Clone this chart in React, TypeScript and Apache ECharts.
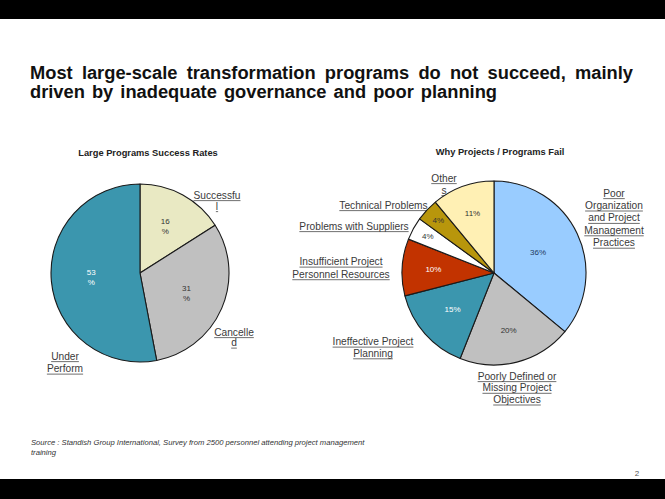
import React, { useEffect, useRef } from "react";
import * as echarts from "echarts";

// ---------- data ----------
const successCategories = ["Successful", "Cancelled", "Under Perform"];
const successValues = [16, 31, 53];
const successLabelLines = [["Successfu", "l"], ["Cancelle", "d"], ["Under", "Perform"]];

const failCategories = [
  "Poor Organization and Project Management Practices",
  "Poorly Defined or Missing Project Objectives",
  "Ineffective Project Planning",
  "Insufficient Project Personnel Resources",
  "Problems with Suppliers",
  "Technical Problems",
  "Others",
];
const failValues = [36, 20, 15, 10, 4, 4, 11];
const failLabelLines = [
  ["Poor", "Organization", "and Project", "Management", "Practices"],
  ["Poorly Defined or", "Missing Project", "Objectives"],
  ["Ineffective Project", "Planning"],
  ["Insufficient Project", "Personnel Resources"],
  ["Problems with Suppliers"],
  ["Technical Problems"],
  ["Other", "s"],
];

const titleLines = [
  "Most large-scale transformation programs do not succeed, mainly",
  "driven by inadequate governance and poor planning",
];
const leftTitle = "Large Programs Success Rates";
const rightTitle = "Why Projects / Programs Fail";
const sourceLines = [
  "Source : Standish Group International, Survey from 2500 personnel attending project management",
  "training",
];
const pageNumber = "2";

// ---------- styles / layout ----------
const FONT = '"Liberation Sans", Arial, sans-serif';
const successColors = ["#e9e9c3", "#c0c0c0", "#3b96ae"];
const successLabelColors = ["#333", "#333", "#ffffff"];
const failColors = ["#99ccff", "#c0c0c0", "#3b96ae", "#c23300", "#ffffff", "#b8960c", "#fff0b4"];
const failLabelColors = ["#1f3a60", "#333", "#ffffff", "#ffffff", "#333", "#333", "#333"];

const leftPie = { cx: 140, cy: 273, r: 89 };
const rightPie = { cx: 494, cy: 273, r: 92 };
const leftInnerFactor = [0.59, 0.57, 0.55];
const rightInnerFactor = [0.53, 0.64, 0.6, 0.66, 0.82, 0.83, 0.69];
// [center x, first line y, line step]
const leftOuterPos = [
  [217, 195, 11],
  [234, 332, 10.5],
  [65, 356, 12.5],
];
const rightOuterPos = [
  [614, 193, 12.4],
  [517, 376, 11.7],
  [373, 341.5, 11.7],
  [341, 261.5, 12.6],
  [354, 226, 0],
  [383.5, 205, 0],
  [444, 178, 12],
];
// title line: [x start, x end, y]
const titleLayout = [
  [30, 633, 72],
  [30, 497, 91.5],
];
const TITLE_SIZE = 18.3;

let measureCtx: CanvasRenderingContext2D | null = null;
function textWidth(t: string, size: number, weight = "normal") {
  if (!measureCtx) measureCtx = document.createElement("canvas").getContext("2d");
  if (!measureCtx) return t.length * size * 0.5;
  measureCtx.font = `${weight} ${size}px ${FONT}`;
  return measureCtx.measureText(t).width;
}

function justifiedLine(t: string, x0: number, x1: number, y: number, size: number) {
  const words = t.split(" ");
  const widths = words.map((w) => textWidth(w, size, "bold"));
  const sum = widths.reduce((a, b) => a + b, 0);
  const gap = words.length > 1 ? (x1 - x0 - sum) / (words.length - 1) : 0;
  const els: any[] = [];
  let x = x0;
  words.forEach((w, i) => {
    els.push({
      type: "text",
      style: { text: w, x, y, align: "left", verticalAlign: "middle", fontSize: size, fontWeight: "bold", fontFamily: FONT, fill: "#111" },
      silent: true,
    });
    x += widths[i] + gap;
  });
  return els;
}

function outerLabels(lines: string[][], pos: number[][], size: number) {
  const els: any[] = [];
  lines.forEach((ls, i) => {
    const [cx, y0, step] = pos[i];
    ls.forEach((t, j) => {
      const y = y0 + j * step;
      els.push({
        type: "text",
        style: { text: t, x: cx, y, align: "center", verticalAlign: "middle", fontSize: size, fontFamily: FONT, fill: "#3a3a3a" },
        silent: true,
      });
      const w = textWidth(t, size);
      els.push({
        type: "line",
        shape: { x1: cx - w / 2, y1: y + size * 0.55, x2: cx + w / 2, y2: y + size * 0.55 },
        style: { stroke: "#4a4a4a", lineWidth: 0.8 },
        silent: true,
      });
    });
  });
  return els;
}

function innerLayout(values: number[], pie: { cx: number; cy: number; r: number }, factors: number[]) {
  const total = values.reduce((a, b) => a + b, 0);
  return (params: any) => {
    const i = params.dataIndex;
    let cum = 0;
    for (let k = 0; k < i; k++) cum += values[k];
    const theta = ((cum + values[i] / 2) / total) * Math.PI * 2;
    const rr = pie.r * factors[i];
    return {
      x: pie.cx + rr * Math.sin(theta),
      y: pie.cy - rr * Math.cos(theta),
      align: "center",
      verticalAlign: "middle",
    };
  };
}

export default function App() {
  const ref = useRef<HTMLDivElement>(null);
  useEffect(() => {
    if (!ref.current) return;
    const chart = echarts.init(ref.current, null, { renderer: "svg" });

    const graphics: any[] = [
      { type: "rect", shape: { x: 0, y: 0, width: 665, height: 19 }, style: { fill: "#000" }, silent: true },
      { type: "rect", shape: { x: 0, y: 479, width: 665, height: 20 }, style: { fill: "#000" }, silent: true },
      ...titleLines.flatMap((t, i) => justifiedLine(t, titleLayout[i][0], titleLayout[i][1], titleLayout[i][2], TITLE_SIZE)),
      {
        type: "text",
        style: { text: leftTitle, x: 148, y: 153, align: "center", verticalAlign: "middle", fontSize: 9.3, fontWeight: "bold", fontFamily: FONT, fill: "#222" },
        silent: true,
      },
      {
        type: "text",
        style: { text: rightTitle, x: 500, y: 152, align: "center", verticalAlign: "middle", fontSize: 9.3, fontWeight: "bold", fontFamily: FONT, fill: "#222" },
        silent: true,
      },
      ...sourceLines.map((t, i) => ({
        type: "text",
        style: { text: t, x: 31, y: 442 + i * 10, align: "left", verticalAlign: "middle", fontSize: 7.65, fontStyle: "italic", fontFamily: FONT, fill: "#333" },
        silent: true,
      })),
      {
        type: "text",
        style: { text: pageNumber, x: 637, y: 473, align: "center", verticalAlign: "middle", fontSize: 8, fontFamily: FONT, fill: "#555" },
        silent: true,
      },
      ...outerLabels(successLabelLines, leftOuterPos, 10.2),
      ...outerLabels(failLabelLines, rightOuterPos, 10.2),
    ];

    chart.setOption({
      animation: false,
      backgroundColor: "#ffffff",
      series: [
        {
          type: "pie",
          silent: true,
          center: [leftPie.cx, leftPie.cy],
          radius: leftPie.r,
          startAngle: 90,
          clockwise: true,
          avoidLabelOverlap: false,
          itemStyle: { borderColor: "#1a1a1a", borderWidth: 1.1 },
          label: {
            show: true,
            position: "inside",
            formatter: "{c}\n%",
            fontSize: 8,
            lineHeight: 10,
            fontFamily: FONT,
            color: "#333",
          },
          labelLine: { show: false },
          labelLayout: innerLayout(successValues, leftPie, leftInnerFactor),
          data: successCategories.map((name, i) => ({
            name,
            value: successValues[i],
            itemStyle: { color: successColors[i] },
            label: { color: successLabelColors[i] },
          })),
        },
        {
          type: "pie",
          silent: true,
          center: [rightPie.cx, rightPie.cy],
          radius: rightPie.r,
          startAngle: 90,
          clockwise: true,
          avoidLabelOverlap: false,
          itemStyle: { borderColor: "#1a1a1a", borderWidth: 1.1 },
          label: {
            show: true,
            position: "inside",
            formatter: "{c}%",
            fontSize: 8,
            fontFamily: FONT,
            color: "#333",
          },
          labelLine: { show: false },
          labelLayout: innerLayout(failValues, rightPie, rightInnerFactor),
          data: failCategories.map((name, i) => ({
            name,
            value: failValues[i],
            itemStyle: { color: failColors[i] },
            label: { color: failLabelColors[i] },
          })),
        },
      ],
      graphic: graphics,
    });
    return () => chart.dispose();
  }, []);
  return <div ref={ref} style={{ position: "absolute", left: 0, top: 0, width: 665, height: 499 }} />;
}
